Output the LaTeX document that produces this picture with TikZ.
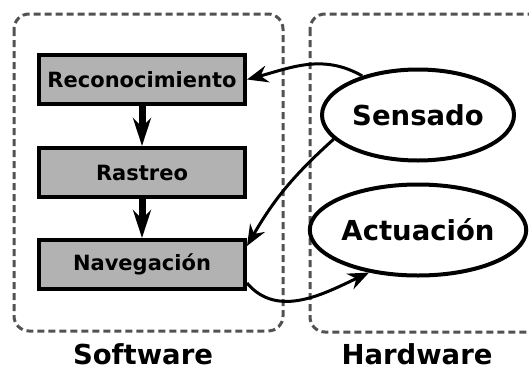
\documentclass[tikz,border=0pt]{standalone}
\usepackage{fontspec}
\setmainfont{DejaVu Sans}
\usetikzlibrary{arrows.meta,shapes.geometric}

\tikzset{
	modulo/.style={draw, line width=4pt, fill=black!30, minimum width=206pt, minimum height=49pt, inner sep=0pt, font=\bfseries\fontsize{21}{24}\selectfont},
	etapa/.style={draw, ellipse, line width=4pt, fill=white, minimum width=192pt, minimum height=91pt, inner sep=0pt, font=\bfseries\fontsize{27.5}{30}\selectfont},
	grupo/.style={draw=black!68, line width=3pt, dash pattern=on 7pt off 4pt, rounded corners=15pt},
	flujo/.style={line width=7pt, -{Stealth[length=28pt, width=18pt, inset=9pt]}},
	enlace/.style={line width=3pt, -{Stealth[length=21pt, width=17pt, inset=7pt]}},
	titulo/.style={anchor=base, inner sep=0pt, text depth=0pt, font=\bfseries\fontsize{27.5}{30}\selectfont}
}

\begin{document}
\begin{tikzpicture}[x=1pt, y=-1pt]
	%%%%% START %%%%%
	
	\useasboundingbox (0, 0) rectangle (529, 370);
	
	\draw[grupo] (14, 14) rectangle (283, 331);
	\draw[grupo] (310, 14) rectangle (545, 332);
	
	\node[modulo] (rec) at (142, 79.5) {Reconocimiento};
	\node[modulo] (ras) at (142, 172.5) {Rastreo};
	\node[modulo] (nav) at (142, 264.5) {Navegación};
	
	\node[etapa] (sen) at (418, 115) {Sensado};
	\node[etapa] (act) at (418, 230) {Actuación};
	
	\draw[flujo] (rec) -- (ras);
	\draw[flujo] (ras) -- (nav);
	
	\draw[enlace] (sen.145) to[out=150, in=15] (rec.east);
	\draw[enlace] (sen.196) to[out=222, in=60] (nav.10);
	\draw[enlace] (nav.-10) to[out=-50, in=205] (act.221);
	
	\node[titulo] (sw) at (143, 364) {Software};
	\node[titulo] (hw) at (417, 364) {Hardware};
	
	%%%%% END %%%%%
\end{tikzpicture}
\end{document}
